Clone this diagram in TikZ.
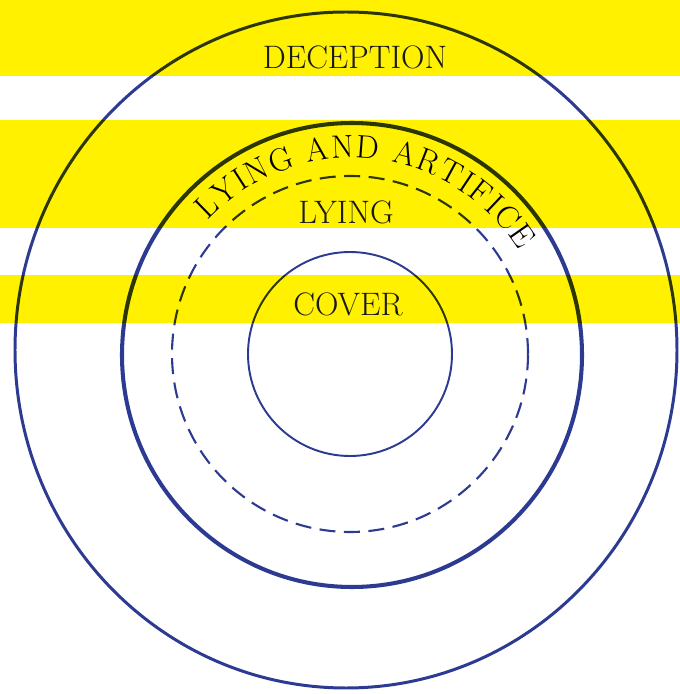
\documentclass[tikz,border=0pt]{standalone}
\usepackage{tikz}
\usetikzlibrary{decorations.text,backgrounds}
\definecolor{ringblue}{RGB}{44,58,146}
\definecolor{bandyellow}{RGB}{255,241,0}

\begin{document}
\begin{tikzpicture}[x=0.02cm,y=0.02cm,
  ring/.style={draw=ringblue},
  label/.style={font=\fontsize{18.5}{22}\selectfont, text=black!90}]
\useasboundingbox (0,0) rectangle (680,694);
% Yellow bands
\fill[bandyellow] (0,618) rectangle (680,694);
\fill[bandyellow] (0,466) rectangle (680,574);
\fill[bandyellow] (0,371) rectangle (680,419);
% Rings
\begin{scope}[blend mode=multiply]
\draw[ring,line width=1.7pt] (346,344) ellipse[x radius=331,y radius=338];
\draw[ring,line width=2.3pt] (352,339) ellipse[x radius=230,y radius=232];
\draw[ring,line width=1.2pt,dash pattern=on 0.32cm off 0.17cm] (350,340) circle[radius=178];
\draw[ring,line width=1.1pt] (350,340) circle[radius=102];
\end{scope}
% Labels
\node[label] (deception) at (355,637) {DECEPTION};
\node[label] (lying) at (346,482) {LYING};
\node[label] (cover) at (348,390) {COVER};
\path[decorate,decoration={text along path,text align=fit to path,
  text={|\fontsize{18.5}{22}\selectfont|LYING AND ARTIFICE}}]
  (352,339) ++(137:197) arc[start angle=137,end angle=32,radius=197];
\end{tikzpicture}
\end{document}
